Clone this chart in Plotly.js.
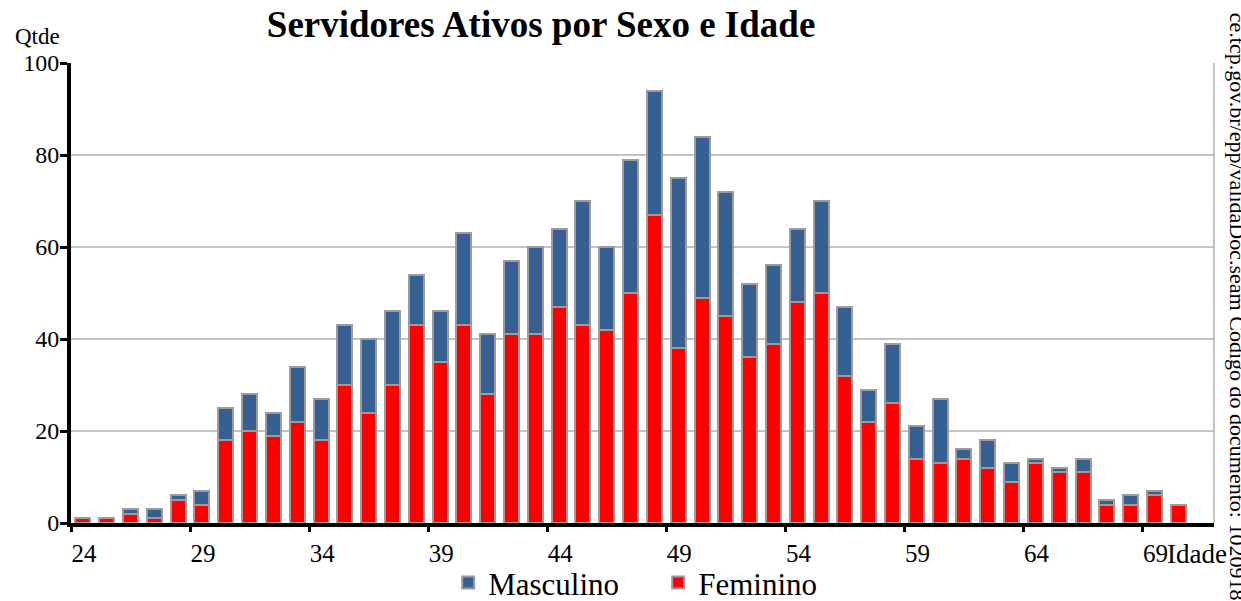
<!DOCTYPE html>
<html>
<head>
<meta charset="utf-8">
<script src="https://cdn.plot.ly/plotly-3.0.1.min.js"></script>
<style>
  html, body { margin: 0; padding: 0; background: #ffffff; }
  #chart { width: 1241px; height: 601px; }
</style>
</head>
<body>
<div id="chart"></div>
<script>
// Ages (categories)
const ages = [24,25,26,27,28,29,30,31,32,33,34,35,36,37,38,39,40,41,42,43,44,45,46,47,48,49,50,51,52,53,54,55,56,57,58,59,60,61,62,63,64,65,66,67,68,69,70];
// Feminino (bottom, red)
const feminino = [1,1,2,1,5,4,18,20,19,22,18,30,24,30,43,35,43,28,41,41,47,43,42,50,67,38,49,45,36,39,48,50,32,22,26,14,13,14,12,9,13,11,11,4,4,6,4];
// Masculino (top, blue)
const masculino = [0,0,1,2,1,3,7,8,5,12,9,13,16,16,11,11,20,13,16,19,17,27,18,29,27,37,35,27,16,17,16,20,15,7,13,7,14,2,6,4,1,1,3,1,2,1,0];
// X tick labels
const xTickLabels = ["24","29","34","39","44","49","54","59","64","69"];
const yTickVals = [0,20,40,60,80,100];

const FONT = "Liberation Serif, Times New Roman, serif";
const outline = {color: "#9c9c9c", width: 2};

const traces = [
  {type: "bar", name: "Feminino", x: ages, y: feminino,
   marker: {color: "#ff0000", line: outline}, width: 0.63},
  {type: "bar", name: "Masculino", x: ages, y: masculino,
   marker: {color: "#376092", line: outline}, width: 0.63}
];

const tickPos = xTickLabels.map(t => Number(t) - 0.5);

const layout = {
  width: 1241, height: 601,
  margin: {l: 71, r: 27, t: 63, b: 78, autoexpand: false},
  paper_bgcolor: "#ffffff", plot_bgcolor: "#ffffff",
  barmode: "stack",
  bargap: 0,
  showlegend: true,
  font: {family: FONT, color: "#000000", size: 24},
  title: {
    text: "<b>Servidores Ativos por Sexo e Idade</b>",
    font: {family: FONT, size: 37, color: "#000000"},
    x: 0.436, xref: "container", xanchor: "center",
    y: 0.96, yref: "container", yanchor: "middle"
  },
  xaxis: {
    range: [23.5, 71.5],
    tickmode: "array", tickvals: tickPos, ticktext: xTickLabels,
    ticks: "outside", ticklen: 5, tickwidth: 3, tickcolor: "#000000",
    ticklabelshift: 13, ticklabelstandoff: 0,
    showline: true, linecolor: "#000000", linewidth: 4,
    showgrid: false, zeroline: false, automargin: false,
    tickfont: {family: FONT, size: 25, color: "#000000"}
  },
  yaxis: {
    range: [0, 100],
    tickmode: "array", tickvals: yTickVals,
    ticks: "outside", ticklen: 7, tickwidth: 3, tickcolor: "#000000",
    ticklabelstandoff: -4,
    showline: true, linecolor: "#000000", linewidth: 4,
    showgrid: true, gridcolor: "#c3c3c3", gridwidth: 2,
    zeroline: false, automargin: false,
    tickfont: {family: FONT, size: 24, color: "#000000"}
  },
  legend: {
    orientation: "h", traceorder: "reversed",
    x: 0.33, xanchor: "left", y: -0.13, yanchor: "middle",
    bgcolor: "rgba(0,0,0,0)",
    font: {family: FONT, size: 31, color: "#000000"},
    entrywidth: 165, entrywidthmode: "pixels",
    itemwidth: 30
  },
  shapes: [
    {type: "line", xref: "paper", yref: "paper", x0: 1, x1: 1, y0: 0, y1: 1,
     line: {color: "#c3c3c3", width: 2}}
  ],
  annotations: [
    {text: "Qtde", xref: "paper", yref: "paper", x: -0.029, y: 1.058,
     xanchor: "center", yanchor: "middle", showarrow: false,
     font: {family: FONT, size: 23, color: "#000000"}},
    {text: "Idade", xref: "paper", yref: "paper", x: 0.957, y: -0.068,
     xanchor: "left", yanchor: "middle", showarrow: false,
     font: {family: FONT, size: 27, color: "#000000"}},
    {text: "ce.tcp.gov.br/epp/validaDoc.seam Código do documento: 1020918",
     xref: "paper", yref: "paper", x: 1.0201, y: 0.47,
     xanchor: "center", yanchor: "middle", showarrow: false, textangle: 90,
     font: {family: FONT, size: 22, color: "#000000"}}
  ]
};

Plotly.newPlot("chart", traces, layout, {displayModeBar: false, staticPlot: true});
</script>
</body>
</html>
